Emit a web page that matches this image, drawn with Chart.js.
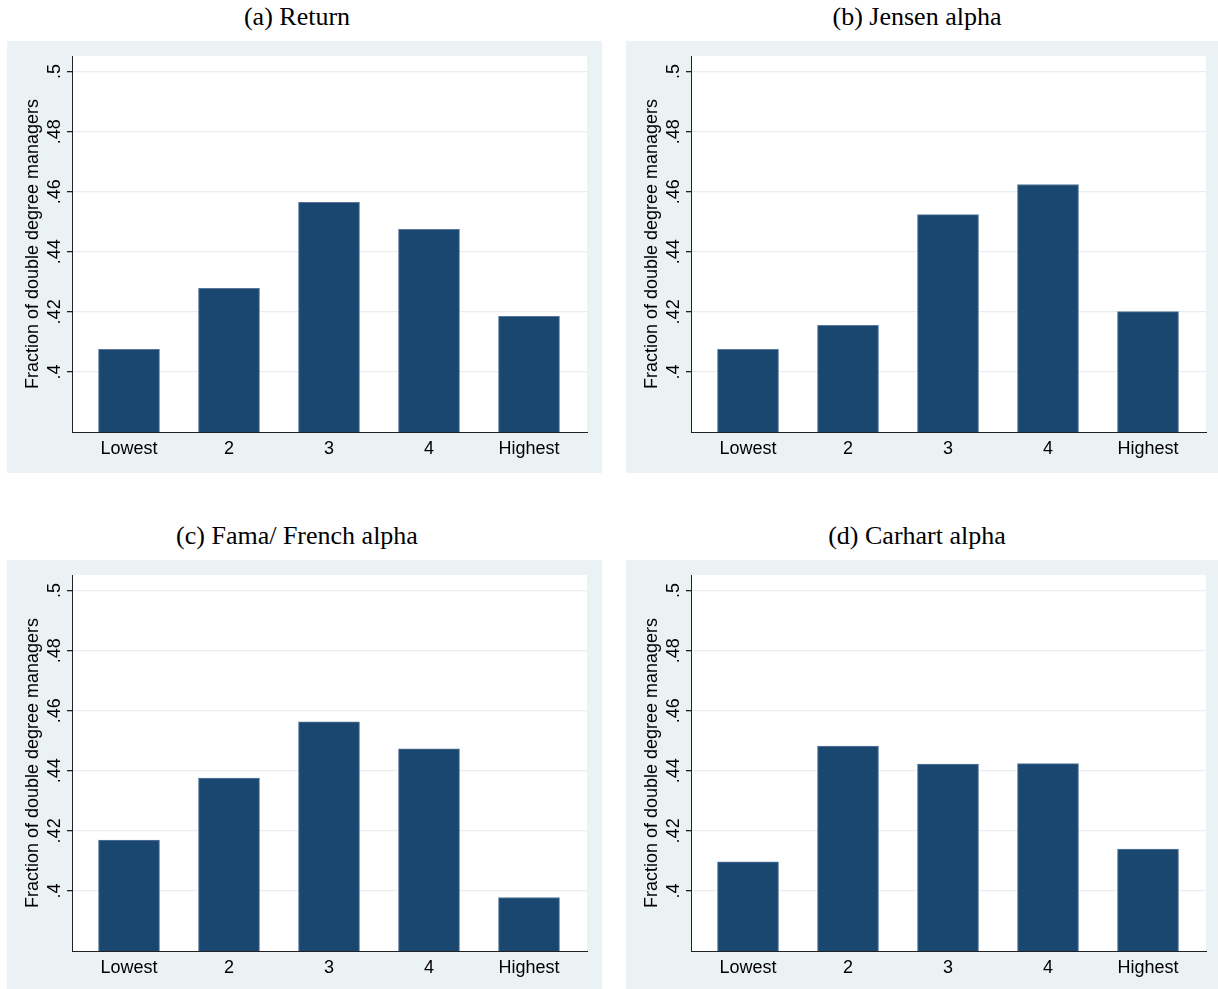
<!DOCTYPE html>
<html>
<head>
<meta charset="utf-8">
<script src="https://cdn.jsdelivr.net/npm/chart.js@4/dist/chart.umd.min.js"></script>
<style>
  html, body { margin: 0; padding: 0; background: #fff; }
  body { width: 1218px; height: 989px; position: relative; overflow: hidden; }
  .ttl { position: absolute; width: 400px; text-align: center; font-family: "Liberation Serif", "Times New Roman", serif;
         font-size: 26px; line-height: 30px; color: #000; white-space: nowrap; }
  .pnl { position: absolute; width: 595px; height: 432px; }
</style>
</head>
<body>
<div class="ttl" style="left:97px;top:2px">(a) Return</div>
<div class="ttl" style="left:717px;top:2px">(b) Jensen alpha</div>
<div class="ttl" style="left:97px;top:521px">(c) Fama/ French alpha</div>
<div class="ttl" style="left:717px;top:521px">(d) Carhart alpha</div>
<div class="pnl" style="left:7px;top:41px"><canvas id="c0"></canvas></div>
<div class="pnl" style="left:626px;top:41px"><canvas id="c1"></canvas></div>
<div class="pnl" style="left:7px;top:560px"><canvas id="c2"></canvas></div>
<div class="pnl" style="left:626px;top:560px"><canvas id="c3"></canvas></div>
<script>
// quintile groups on the x axis
const categories = ['Lowest', '2', '3', '4', 'Highest'];
// fraction of double degree managers per quintile, one array per panel
const returnVals = [0.4075, 0.4278, 0.4565, 0.4475, 0.4185];
const jensenVals = [0.4075, 0.4155, 0.4524, 0.4624, 0.4201];
const famaFrenchVals = [0.4169, 0.4376, 0.4563, 0.4473, 0.3978];
const carhartVals = [0.4097, 0.4482, 0.4422, 0.4424, 0.4139];
const yTicks = [0.4, 0.42, 0.44, 0.46, 0.48, 0.5];
const yTitle = 'Fraction of double degree managers';

const panels = [returnVals, jensenVals, famaFrenchVals, carhartVals];

const bgPlugin = {
  id: 'panelBg',
  beforeDraw(chart) {
    const {ctx, chartArea: a, width, height} = chart;
    ctx.save();
    ctx.fillStyle = '#eaf2f3';
    ctx.fillRect(0, 0, width, height);
    ctx.fillStyle = '#ffffff';
    ctx.fillRect(a.left, a.top, a.right - a.left, a.bottom - a.top);
    ctx.restore();
  }
};

const fmt = v => String(+v.toFixed(2)).replace(/^0/, '');
const sans = '"Liberation Sans", Arial, sans-serif';

panels.forEach((vals, k) => {
  new Chart(document.getElementById('c' + k), {
    type: 'bar',
    data: {
      datasets: [{
        data: vals.map((v, i) => ({x: i, y: v})),
        backgroundColor: '#1a476f',
        borderColor: '#56779a',
        borderWidth: 1,
        barThickness: 61
      }]
    },
    options: {
      responsive: true,
      maintainAspectRatio: false,
      animation: false,
      layout: {padding: {top: 15, right: 15, left: 0, bottom: 0}},
      plugins: {legend: {display: false}, tooltip: {enabled: false}},
      scales: {
        x: {
          type: 'linear',
          offset: false,
          min: -0.57, max: 4.58,
          afterBuildTicks: s => { s.ticks = categories.map((c, i) => ({value: i})); },
          afterFit: s => { s.height = 41; },
          grid: {display: false, drawTicks: false, offset: false},
          border: {display: true, color: '#222', width: 1},
          ticks: {
            callback: v => categories[v],
            font: {family: sans, size: 18},
            color: '#000',
            padding: 6,
            maxRotation: 0, minRotation: 0
          }
        },
        y: {
          min: 0.38, max: 0.5052,
          afterBuildTicks: s => { s.ticks = yTicks.map(v => ({value: v})); },
          afterFit: s => { s.width = 65; },
          grid: {color: '#e6eef0', lineWidth: 1.3, tickColor: '#222', tickLength: 5, drawTicks: true},
          border: {display: true, color: '#222', width: 1},
          ticks: {
            callback: v => fmt(v),
            font: {family: sans, size: 18},
            color: '#000',
            minRotation: 90, maxRotation: 90,
            crossAlign: 'center',
            padding: -1
          },
          title: {
            display: true,
            text: yTitle,
            font: {family: sans, size: 18},
            color: '#000',
            padding: {top: 15, bottom: 0}
          }
        }
      }
    },
    plugins: [bgPlugin]
  });
});
</script>
</body>
</html>
